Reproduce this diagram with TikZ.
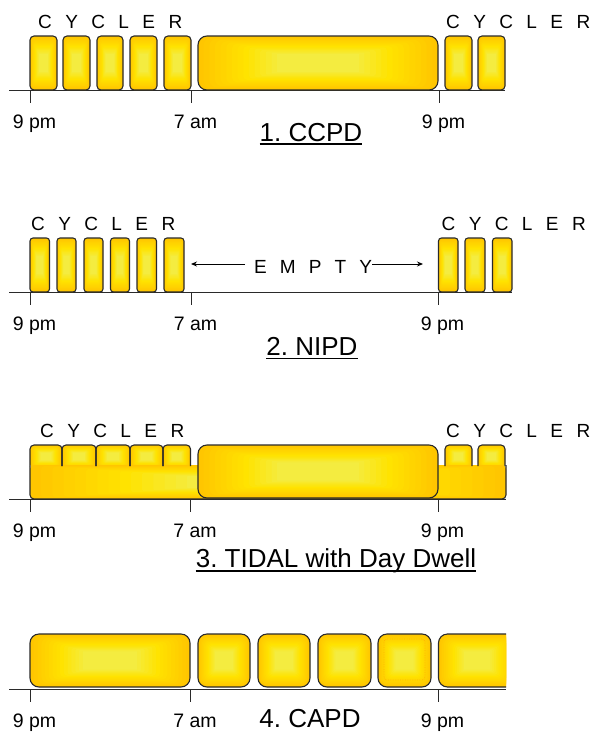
\documentclass[tikz,border=0pt]{standalone}
\usepackage{fontspec}
\setmainfont{Liberation Sans}
\usetikzlibrary{arrows.meta}
\frenchspacing
\definecolor{yedge}{HTML}{FFC600}
\definecolor{ymid}{HTML}{FFE300}
\definecolor{ycen}{HTML}{F4EC40}
\definecolor{lineg}{HTML}{2A2A2A}
\definecolor{innerorange}{HTML}{FFB400}
\newcommand\yfill[5]{%
  \foreach \k in {0,...,14}{%
    \pgfmathsetmacro\fx{(#3-#1)/2*0.66*\k/14}%
    \pgfmathsetmacro\fy{(#4-#2)/2*0.66*\k/14}%
    \pgfmathsetmacro\rr{max(0.3,#5*(1-\k/14))}%
    \pgfmathtruncatemacro\pa{min(100,\k/8*100)}%
    \pgfmathtruncatemacro\pb{max(0,(\k-8)/6*100)}%
    \fill[rounded corners=\rr pt, fill=ycen!\pb!ymid!\pa!yedge]
      (#1+\fx,#2+\fy) rectangle (#3-\fx,#4-\fy);
  }%
}
\newcommand\ybox[5]{%
  \yfill{#1}{#2}{#3}{#4}{#5}%
  \draw[boxline=#5] (#1,#2) rectangle (#3,#4);%
}
\newcommand\cyclerword{C\hspace{13.4pt}Y\hspace{13.4pt}C\hspace{13.4pt}L\hspace{13.4pt}E\hspace{13.4pt}R}
\newcommand\emptyword{E\hspace{13.1pt}M\hspace{13.1pt}P\hspace{13.1pt}T\hspace{13.1pt}Y}
\begin{document}
\begin{tikzpicture}[x=1pt,y=-1pt,
  boxline/.style={draw=lineg, line width=1.1pt, rounded corners=#1},
  axisline/.style={draw=lineg, line width=1pt},
  cyc/.style={font=\fontsize{19}{19}\selectfont, anchor=base west, inner sep=0pt},
  tlab/.style={font=\fontsize{19.5}{20}\selectfont, anchor=base, inner sep=0pt},
  ttl/.style={font=\fontsize{26}{26}\selectfont, anchor=base, inner sep=0pt},
  uline/.style={draw=black, line width=1.6pt},
  emptyarrow/.style={draw=black, line width=0.9pt, -{Stealth[length=6pt,width=5pt]}}]
\useasboundingbox (0,0) rectangle (592,732);

% ---------------- Panel 1: CCPD ----------------
\draw[axisline] (9,90) -- (505,90);
\foreach \t in {30,191,439} \draw[axisline] (\t,90) -- (\t,103);
\ybox{30}{36}{57}{90}{4}
\ybox{63}{36}{90}{90}{4}
\ybox{97}{36}{123}{90}{4}
\ybox{130}{36}{157}{90}{4}
\ybox{164}{36}{191}{90}{4}
\ybox{198}{36}{438}{90}{9}
\ybox{445}{36}{472}{90}{4}
\ybox{478}{36}{505}{90}{4}
\node[cyc] (c1l) at (38,28) {\cyclerword};
\node[cyc] (c1r) at (446,28) {\cyclerword};
\node[tlab] (l1a) at (34.5,128) {9 pm};
\node[tlab] (l1b) at (195.5,128) {7 am};
\node[tlab] (l1c) at (443.5,128) {9 pm};
\node[ttl] (t1) at (311,141) {1. CCPD};
\draw[uline] ([yshift=-3.2pt]t1.base west) -- ([yshift=-3.2pt]t1.base east);

% ---------------- Panel 2: NIPD ----------------
\draw[axisline] (9,292) -- (512,292);
\foreach \t in {30,191,438} \draw[axisline] (\t,292) -- (\t,305);
\ybox{30}{238}{49.5}{292}{3}
\ybox{57}{238}{76}{292}{3}
\ybox{84}{238}{103}{292}{3}
\ybox{110.5}{238}{129.5}{292}{3}
\ybox{137}{238}{156.5}{292}{3}
\ybox{164}{238}{184}{292}{3}
\ybox{438.5}{238}{458}{292}{3}
\ybox{465}{238}{485}{292}{3}
\ybox{492.5}{238}{512}{292}{3}
\node[cyc] (c2l) at (31,230) {\cyclerword};
\node[cyc] (c2r) at (441.5,230) {\cyclerword};
\node[cyc] (e2) at (254,273) {\emptyword};
\coordinate (e2lstart) at (245,264);
\coordinate (e2lend) at (191,264);
\coordinate (e2rstart) at (372,264);
\coordinate (e2rend) at (423,264);
\draw[emptyarrow] (e2lstart) -- (e2lend);
\draw[emptyarrow] (e2rstart) -- (e2rend);
\node[tlab] (l2a) at (34.5,330) {9 pm};
\node[tlab] (l2b) at (195.5,330) {7 am};
\node[tlab] (l2c) at (442.5,330) {9 pm};
\node[ttl] (t2) at (312,355) {2. NIPD};
\draw[uline] ([yshift=-3.5pt]t2.base west) -- ([yshift=-3.5pt]t2.base east);

% ---------------- Panel 3: TIDAL with Day Dwell ----------------
% tabs
\yfill{30}{445}{62}{468}{4}
\yfill{62}{445}{96}{468}{4}
\yfill{96}{445}{130}{468}{4}
\yfill{130}{445}{163}{468}{4}
\yfill{163}{445}{190.5}{468}{4}
\yfill{445}{445}{472}{468}{4}
\yfill{478}{445}{505}{468}{4}
% lower band
\yfill{30}{465}{506}{499}{4}
% tab outlines
\foreach \a/\b in {30/62,62/96,96/130,130/163,163/190.5,445/472,478/505}
  \draw[boxline=4] (\a,466) -- (\a,445) -- (\b,445) -- (\b,466);
% band outline
\draw[boxline=4] (30,466) -- (30,499) -- (506,499) -- (506,465);
% day box
\ybox{198}{445}{438}{498}{9}
\draw[axisline] (9,499) -- (506,499);
\foreach \t in {30,190.5,438} \draw[axisline] (\t,499) -- (\t,512);
\node[cyc] (c3l) at (40,437) {\cyclerword};
\node[cyc] (c3r) at (446,437) {\cyclerword};
\node[tlab] (l3a) at (34.5,537) {9 pm};
\node[tlab] (l3b) at (195,537) {7 am};
\node[tlab] (l3c) at (442.5,537) {9 pm};
\node[ttl] (t3) at (336,567) {3. TIDAL with Day Dwell};
\draw[uline] ([yshift=-4pt]t3.base west) -- ([yshift=-4pt]t3.base east);

% ---------------- Panel 4: CAPD ----------------
\ybox{30}{634}{190}{687}{9}
\ybox{198}{634}{250}{687}{9}
\ybox{258}{634}{310}{687}{9}
\ybox{318}{634}{371}{687}{9}
\ybox{378}{634}{431}{687}{9}
\draw[draw=innerorange, line width=0.7pt, densely dotted, rounded corners=3pt] (384,639) rectangle (425,680);
\begin{scope}
  \clip (430,620) rectangle (506,700);
  \yfill{438.5}{634}{516}{687}{9}
\end{scope}
\draw[boxline=9] (506,634) -- (438.5,634) -- (438.5,687) -- (506,687);
\draw[axisline] (9,689) -- (506,689);
\foreach \t in {30,190.5,438} \draw[axisline] (\t,689) -- (\t,702);
\node[tlab] (l4a) at (34.5,727) {9 pm};
\node[tlab] (l4b) at (195,727) {7 am};
\node[tlab] (l4c) at (442.5,727) {9 pm};
\node[ttl] (t4) at (310,727) {4. CAPD};
\end{tikzpicture}
\end{document}
